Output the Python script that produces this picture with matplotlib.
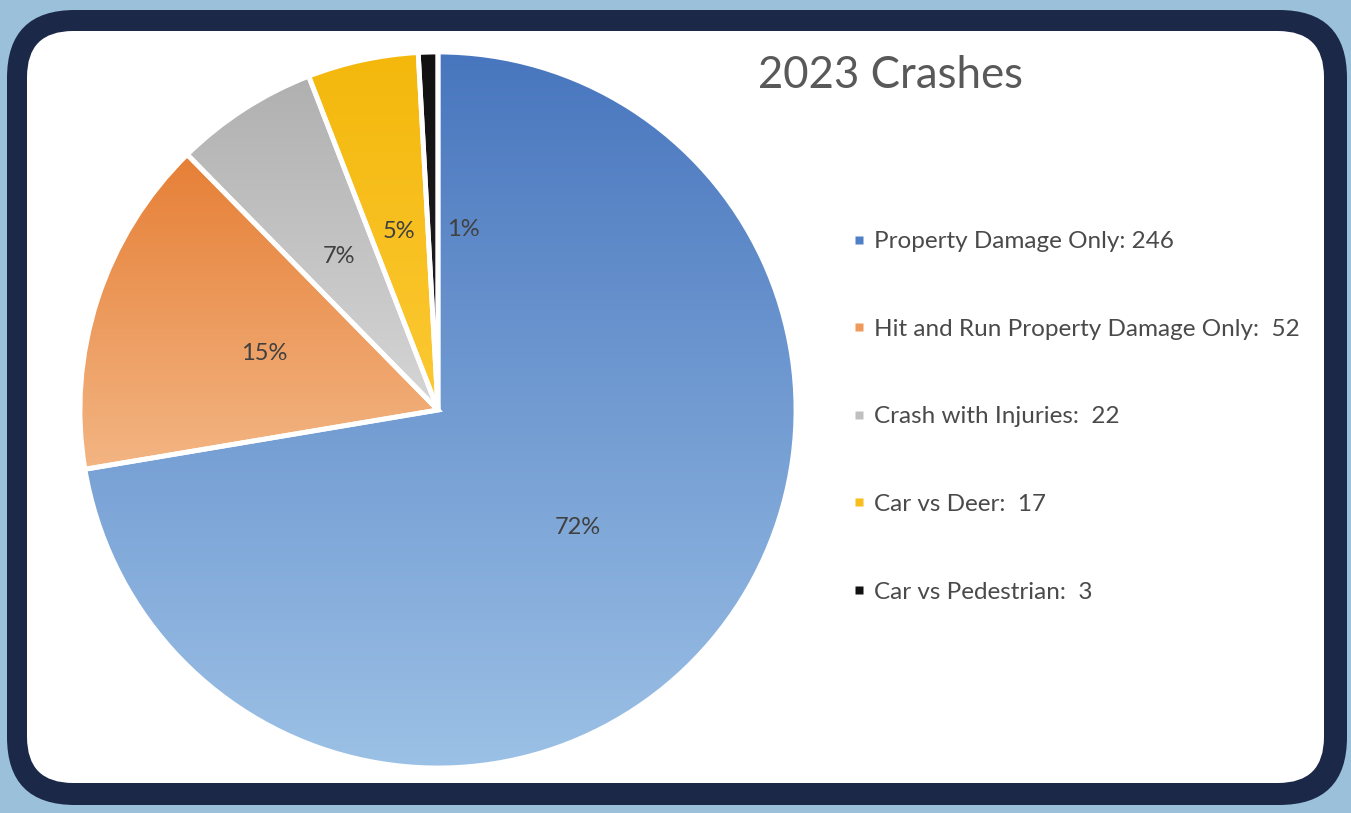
import numpy as np
import matplotlib
matplotlib.use('Agg')
import matplotlib.pyplot as plt
from matplotlib.patches import FancyBboxPatch
from matplotlib.lines import Line2D
from matplotlib.colors import LinearSegmentedColormap

plt.rcParams['font.family'] = ['Lato', 'DejaVu Sans']

# data
categories = ['Property Damage Only', 'Hit and Run Property Damage Only',
              'Crash with Injuries', 'Car vs Deer', 'Car vs Pedestrian']
counts = [246, 52, 22, 17, 3]
pct_labels = ['72%', '15%', '7%', '5%', '1%']
separators = [' ', '  ', '  ', '  ', '  ']

# (top colour, bottom colour) for each slice gradient
GRADIENTS = [
    ('#4876be', '#9cc1e6'),
    ('#e67f36', '#f3b583'),
    ('#b0b0b0', '#d6d6d6'),
    ('#f4b80c', '#fcc934'),
    ('#111111', '#222222'),
]
MARKER_COLORS = ['#4f7fc4', '#ef9a5a', '#c0c0c0', '#f7be1c', '#111111']

W, H = 1351, 813
fig = plt.figure(figsize=(W / 100, H / 100), dpi=100)
fig.patch.set_facecolor('#9bc1da')

# rounded navy frame with white panel
bg = fig.add_axes([0, 0, 1, 1])
bg.set_xlim(0, W)
bg.set_ylim(H, 0)
bg.axis('off')
bg.add_patch(FancyBboxPatch((7, 10), 1340, 795,
                            boxstyle='round,pad=0,rounding_size=68',
                            facecolor='#1b2847', edgecolor='none'))
bg.add_patch(FancyBboxPatch((27, 31), 1297, 752,
                            boxstyle='round,pad=0,rounding_size=46',
                            facecolor='white', edgecolor='none'))

# pie axes: centre (438, 410) px, radius 358 px
cx, cy, r = 438, 410, 358
ax = fig.add_axes([(cx - r) / W, (H - cy - r) / H, 2 * r / W, 2 * r / H])
ax.axis('off')

wedges, _ = ax.pie(counts, startangle=90, counterclock=False, radius=1,
                   wedgeprops=dict(edgecolor='white', linewidth=3.5))

for w, (top, bottom) in zip(wedges, GRADIENTS):
    ext = w.get_path().get_extents()
    cmap = LinearSegmentedColormap.from_list('g', [bottom, top])
    grad = np.linspace(1, 0, 256).reshape(-1, 1)
    im = ax.imshow(grad, cmap=cmap, vmin=0, vmax=1, aspect='auto',
                   extent=(ext.x0, ext.x1, ext.y0, ext.y1), zorder=1,
                   interpolation='bilinear')
    im.set_clip_path(w)
    w.set_facecolor('none')
    w.set_zorder(2)

ax.set_xlim(-1.0, 1.0)
ax.set_ylim(-1.0, 1.0)

# percentage labels at half radius; the tiny slice label sits just clockwise
for w, lab in zip(wedges, pct_labels):
    mid = 0.5 * (w.theta1 + w.theta2)
    if w.theta2 - w.theta1 < 5:
        mid = w.theta1 - 8
    a = np.deg2rad(mid)
    ax.text(0.51 * np.cos(a), 0.51 * np.sin(a), lab, ha='center', va='center',
            fontsize=17, color='#404040', zorder=3)

fig.text(891 / W, 1 - 76 / H, '2023 Crashes', ha='center', va='center',
         fontsize=31.5, color='#595959')

handles = [Line2D([], [], marker='s', linestyle='none', markersize=6,
                  markerfacecolor=c, markeredgecolor='none')
           for c in MARKER_COLORS]
labels = ['{}:{}{}'.format(c, s, v) for c, s, v in zip(categories, separators, counts)]
fig.legend(handles, labels, loc='upper left', bbox_to_anchor=(840 / W, 1 - 219 / H),
           frameon=False, fontsize=17.5, labelcolor='#4a4a4a', handlelength=0.6,
           handletextpad=0.3, labelspacing=2.74, borderpad=0)

fig.savefig('out.png', dpi=100, facecolor=fig.get_facecolor())
